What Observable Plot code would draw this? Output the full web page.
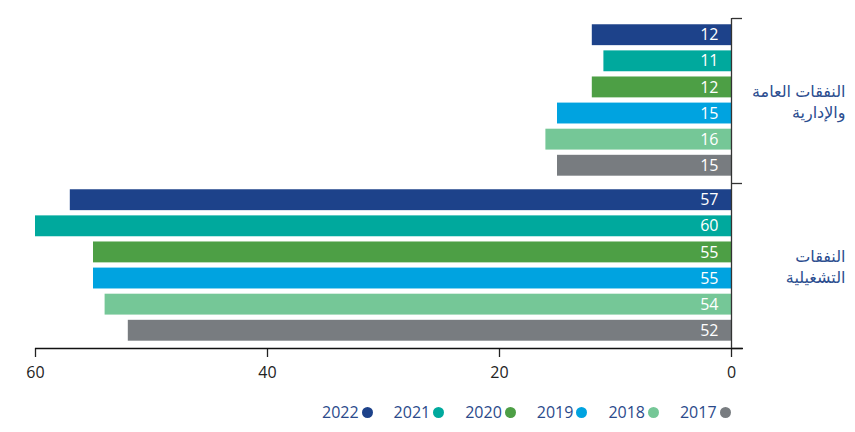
<!DOCTYPE html>
<html>
<head>
<meta charset="utf-8">
<script src="https://cdn.jsdelivr.net/npm/d3@7"></script>
<script src="https://cdn.jsdelivr.net/npm/@observablehq/plot@0.6"></script>
<style>
  html, body { margin: 0; padding: 0; background: #fff; }
  #wrap { position: relative; width: 855px; height: 432px; font-family: "Open Sans", "DejaVu Sans", sans-serif; }
  #legend { position: absolute; left: 322px; top: 401px; display: flex; gap: 21px; font-size: 16px; color: #2b4a8b; }
  .item { display: flex; align-items: center; gap: 3px; }
  .dot { width: 11px; height: 11px; border-radius: 50%; display: inline-block; }
</style>
</head>
<body>
<div id="wrap"><div id="chart"></div><div id="legend"></div></div>
<script>
const categories = ["النفقات العامة والإدارية", "النفقات التشغيلية"];
const categoryLabels = ["النفقات العامة\nوالإدارية", "النفقات\nالتشغيلية"];
const years = ["2022", "2021", "2020", "2019", "2018", "2017"];
const colors = ["#1d428a", "#00a99d", "#4d9f45", "#00a3e0", "#75c797", "#787c80"];
const adminValues = [12, 11, 12, 15, 16, 15];
const operatingValues = [57, 60, 55, 55, 54, 52];
const xTicks = [0, 20, 40, 60];

// layout in slot units (one bar slot = 1)
const topPad = 0.24, groupStep = 6.32, barH = 0.8, total = 12.64;

const seriesByCat = [adminValues, operatingValues];
const rows = [];
categories.forEach((c, g) => {
  years.forEach((yr, i) => {
    const y1 = topPad + g * groupStep + i;
    rows.push({category: c, year: yr, value: seriesByCat[g][i], y1, y2: y1 + barH, yc: y1 + barH / 2});
  });
});
const labelRows = categoryLabels.map((t, g) => ({text: t, yc: groupStep * g + groupStep / 2}));

const fontFam = "'Open Sans', 'DejaVu Sans', sans-serif";

const plot = Plot.plot({
  width: 855,
  height: 400,
  marginLeft: 35,
  marginRight: 124,
  marginTop: 18,
  marginBottom: 52,
  style: {fontFamily: fontFam, background: "transparent"},
  x: {type: "linear", domain: [0, 60], reverse: true},
  y: {type: "linear", domain: [0, total], reverse: true},
  color: {domain: years, range: colors},
  marks: [
    Plot.rectX(rows, {x1: 0, x2: "value", y1: "y1", y2: "y2", fill: "year"}),
    Plot.text(rows, {x: 0, y: "yc", text: d => String(d.value), fill: "white", textAnchor: "end", dx: -13, fontSize: 16, fontFamily: fontFam}),
    Plot.axisX({ticks: xTicks, tickSize: 9, tickPadding: 9, fontSize: 16, stroke: "#222", strokeWidth: 1.3, color: "#222", label: null}),
    Plot.axisY({anchor: "right", ticks: [0, groupStep, total], tickSize: 10, tickFormat: () => "", stroke: "#333", strokeWidth: 1.3, label: null}),
    Plot.ruleY([total], {stroke: "#111", strokeWidth: 1.4, insetRight: -12}),
    Plot.ruleX([0], {stroke: "#333", strokeWidth: 1.3}),
    Plot.text(labelRows, {
      x: 0,
      y: "yc",
      text: "text",
      lineHeight: 1.3,
      dx: 114,
      textAnchor: "end",
      fontSize: 16,
      fill: "#2b4d8f",
      fontFamily: fontFam
    })
  ]
});
document.getElementById("chart").appendChild(plot);

const legend = document.getElementById("legend");
years.forEach((yr, i) => {
  const item = document.createElement("div");
  item.className = "item";
  const t = document.createElement("span");
  t.textContent = yr;
  const d = document.createElement("span");
  d.className = "dot";
  d.style.background = colors[i];
  item.appendChild(t);
  item.appendChild(d);
  legend.appendChild(item);
});
</script>
</body>
</html>
